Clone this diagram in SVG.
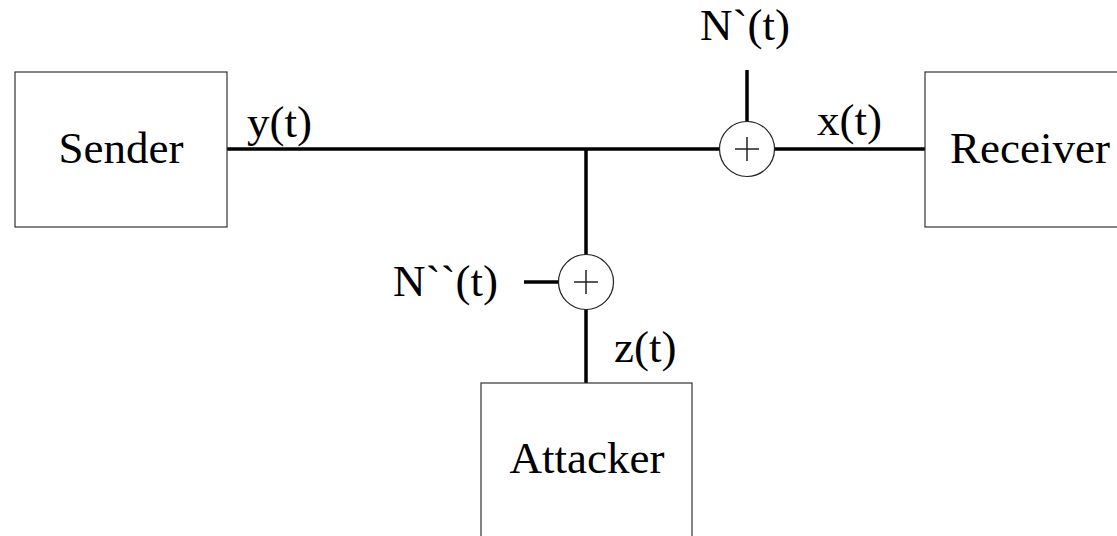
<svg xmlns="http://www.w3.org/2000/svg" width="1117" height="536" viewBox="0 0 1117 536" font-family="Liberation Serif, Times New Roman, serif" font-size="45">
<style>
.box{fill:#fff;stroke:#333;stroke-width:1.2}
.sum{fill:#fff;stroke:#222;stroke-width:1.2}
.plus{stroke:#222;stroke-width:1.5;fill:none}
.wire{stroke:#000;stroke-width:3.5;fill:none}
</style>
<rect width="1117" height="536" fill="#fff"/>
<g id="connectors">
<line class="wire" x1="227" y1="149" x2="720" y2="149"/>
<line class="wire" x1="774" y1="149" x2="925" y2="149"/>
<line class="wire" x1="747" y1="70" x2="747" y2="122"/>
<line class="wire" x1="586" y1="149" x2="586" y2="255"/>
<line class="wire" x1="586" y1="309" x2="586" y2="383"/>
<line class="wire" x1="524" y1="282" x2="559" y2="282"/>
<text x="247" y="137">y(t)</text>
<text x="817" y="135">x(t)</text>
<text x="700" y="40">N`(t)</text>
<text x="393" y="296">N``(t)</text>
<text x="614" y="362">z(t)</text>
</g>
<g id="sender">
<rect class="box" x="15" y="72" width="212" height="155"/>
<text x="121" y="163" text-anchor="middle">Sender</text>
</g>
<g id="receiver">
<rect class="box" x="925" y="72" width="220" height="155"/>
<text x="950" y="163">Receiver</text>
</g>
<g id="attacker">
<rect class="box" x="481" y="383" width="211" height="170"/>
<text x="587" y="473" text-anchor="middle">Attacker</text>
</g>
<g id="sum1">
<circle class="sum" cx="747" cy="149" r="27.5"/>
<path class="plus" d="M735 149H759M747 137V161"/>
</g>
<g id="sum2">
<circle class="sum" cx="586" cy="282" r="27.5"/>
<path class="plus" d="M574 282H598M586 270V294"/>
</g>
</svg>
